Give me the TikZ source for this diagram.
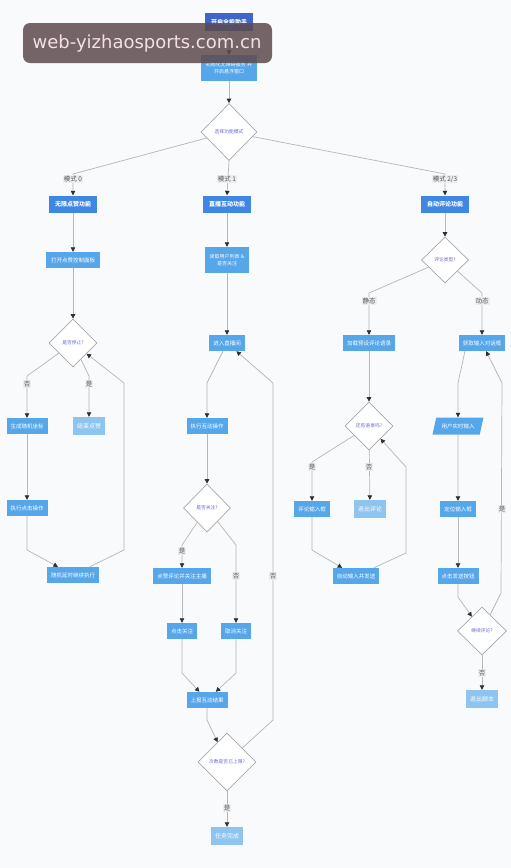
\documentclass[tikz,border=0pt]{standalone}
\usepackage{fontspec}
\setmainfont{Noto Sans CJK SC}
\newfontfamily\wmfont{DejaVu Sans}
\usetikzlibrary{shapes.geometric,arrows.meta}
\definecolor{bg}{HTML}{F8FAFB}
\definecolor{boxblue}{HTML}{56A6EA}
\definecolor{modeblue}{HTML}{3F87E2}
\definecolor{topblue}{HTML}{3D66C8}
\definecolor{lightblue}{HTML}{8DC4F0}
\definecolor{dgrey}{HTML}{A4A8AC}
\definecolor{dtext}{HTML}{6A6AD8}
\definecolor{egrey}{HTML}{B2B8BE}
\definecolor{arrowc}{HTML}{2E2E2E}
\definecolor{lblbg}{HTML}{EDEEEF}
\definecolor{lbltext}{HTML}{555555}
\definecolor{wmfill}{HTML}{5E4A4E}
\definecolor{wmtext}{HTML}{F4DFE4}
\begin{document}
\begin{tikzpicture}[x=1pt,y=-1pt,
  box/.style={rectangle, fill=boxblue, text=white, font=\fontsize{5.5}{6.5}\selectfont,
    inner xsep=4pt, inner ysep=2pt, minimum height=16pt, align=center},
  twoline/.style={box, font=\fontsize{5}{7}\selectfont, minimum height=26pt},
  modebox/.style={box, fill=modeblue, font=\bfseries\fontsize{6}{7}\selectfont,
    minimum height=17pt, inner xsep=6pt},
  topbox/.style={modebox, fill=topblue, minimum height=18pt},
  lightbox/.style={box, fill=lightblue, minimum height=18pt, font=\fontsize{6}{7}\selectfont},
  decision/.style={diamond, draw=dgrey, line width=0.7pt, fill=white, text=dtext,
    font=\fontsize{4.8}{5.5}\selectfont, inner sep=0pt, align=center},
  iobox/.style={trapezium, trapezium left angle=72, trapezium right angle=108,
    trapezium stretches=true,
    fill=boxblue, text=white, font=\fontsize{5.5}{6.5}\selectfont,
    minimum height=17pt, minimum width=51pt, inner xsep=1pt, inner ysep=2pt},
  edge/.style={draw=egrey, line width=0.7pt,
    -{Triangle[width=4.5pt,length=4.5pt,fill=arrowc,color=arrowc]}},
  elabel/.style={fill=lblbg, text=lbltext, font=\fontsize{6.5}{7}\selectfont, inner sep=1pt}
]
\fill[bg] (0,0) rectangle (511,868);
\useasboundingbox (0,0) rectangle (511,868);

% ---------- top ----------
\node[topbox] (start) at (229,22) {开启全能助手};
\node[twoline, minimum width=56pt] (init) at (229,68) {初始化无障碍服务 并\\开启悬浮窗口};
\node[decision, minimum width=56pt, minimum height=57pt] (dmode) at (229,132) {选择功能模式};
\node[modebox] (m0) at (73,204) {无限点赞功能};
\node[modebox] (m1) at (227,204) {直播互动功能};
\node[modebox] (m2) at (445,204) {自动评论功能};

% ---------- left ----------
\node[box, minimum width=54pt] (L1) at (73,260) {打开点赞控制面板};
\node[decision, minimum width=48pt, minimum height=48pt] (Ld) at (73,343) {是否停止?};
\node[box] (L2) at (27,426) {生成随机坐标};
\node[lightbox] (Lend) at (89,426) {结束点赞};
\node[box] (L3) at (27,508) {执行点击操作};
\node[box] (L4) at (73,575) {随机延时继续执行};

% ---------- middle ----------
\node[twoline, minimum width=44pt] (M1) at (227,260) {读取用户列表 \&\\是否关注};
\node[box] (M2) at (227,343) {进入直播间};
\node[box] (M3) at (207,426) {执行互动操作};
\node[decision, minimum width=47pt, minimum height=48pt] (Md) at (207,508) {是否关注?};
\node[box] (Y1) at (182,576) {点赞评论并关注主播};
\node[box] (Y2) at (182,631) {点击关注};
\node[box] (N1) at (236,631) {取消关注};
\node[box] (R) at (207,700) {上报互动结果};
\node[decision, minimum width=58pt, minimum height=58pt] (Dd) at (227,762) {次数是否已上限?};
\node[lightbox] (Done) at (227,836) {任务完成};

% ---------- right ----------
\node[decision, minimum width=47pt, minimum height=46pt] (Rd) at (445,260) {评论类型?};
\node[box] (S1) at (369,343) {加载预设评论语录};
\node[box] (D1) at (482,343) {获取输入对话框};
\node[decision, minimum width=48pt, minimum height=48pt] (Sd) at (369,426) {还有语录吗?};
\node[box] (E1) at (312,509) {评论输入框};
\node[lightbox] (E2) at (370,509) {退出评论};
\node[box] (E3) at (356,576) {自动输入并发送};
\node[iobox] (P1) at (458,426) {用户实时输入};
\node[box] (F1) at (458,509) {定位输入框};
\node[box] (F2) at (458,576) {点击发送按钮};
\node[decision, minimum width=49pt, minimum height=48pt] (Cd) at (482,631) {继续评论?};
\node[lightbox] (Q) at (482,699) {退出脚本};

% ---------- bend coordinates ----------
\coordinate (c0) at (73,174);
\coordinate (c2) at (445,174);
\coordinate (lno) at (27,376);
\coordinate (lyes) at (89,376);
\coordinate (l3b) at (27,550);
\coordinate (l4r) at (124,550);
\coordinate (l4u) at (124,383);
\coordinate (m2b) at (207,383);
\coordinate (myes) at (182,545);
\coordinate (mno) at (236,545);
\coordinate (y2b) at (182,673);
\coordinate (n1b) at (236,673);
\coordinate (rb) at (207,720);
\coordinate (ddr) at (273,720);
\coordinate (ddu) at (273,383);
\coordinate (rs) at (369,293);
\coordinate (rdyn) at (482,293);
\coordinate (syes) at (312,462);
\coordinate (e1b) at (312,550);
\coordinate (e3r) at (406,553);
\coordinate (e3u) at (406,467);
\coordinate (d1s) at (465,351);
\coordinate (d1b) at (458,383);
\coordinate (f2b) at (458,597);
\coordinate (cdr) at (501,593);
\coordinate (cdu) at (502,383);

% ---------- edges ----------
\draw[edge] (start) -- (init);
\draw[edge] (init) -- (dmode);
\draw[edge] (dmode) -- (c0) -- (m0);
\draw[edge] (dmode.south) -- (m1.north);
\draw[edge] (dmode) -- (c2) -- (m2);

\draw[edge] (m0) -- (L1);
\draw[edge] (L1) -- (Ld);
\draw[edge] (Ld) -- (lno) -- (L2);
\draw[edge] (Ld) -- (lyes) -- (Lend);
\draw[edge] (L2) -- (L3);
\draw[edge] (L3.south) -- (l3b) -- (L4);
\draw[edge] (L4) -- (l4r) -- (l4u) -- (Ld);

\draw[edge] (m1) -- (M1);
\draw[edge] (M1) -- (M2);
\draw[edge] (M2) -- (m2b) -- (M3);
\draw[edge] (M3) -- (Md);
\draw[edge] (Md) -- (myes) -- (Y1);
\draw[edge] (Md) -- (mno) -- (N1);
\draw[edge] (Y1) -- (Y2);
\draw[edge] (Y2.south) -- (y2b) -- (R);
\draw[edge] (N1.south) -- (n1b) -- (R);
\draw[edge] (R.south) -- (rb) -- (Dd);
\draw[edge] (Dd) -- (ddr) -- (ddu) -- (M2);
\draw[edge] (Dd) -- (Done);

\draw[edge] (m2) -- (Rd);
\draw[edge] (Rd) -- (rs) -- (S1);
\draw[edge] (Rd) -- (rdyn) -- (D1);
\draw[edge] (S1) -- (Sd);
\draw[edge] (Sd) -- (syes) -- (E1);
\draw[edge] (Sd) -- (E2);
\draw[edge] (E1.south) -- (e1b) -- (E3);
\draw[edge] (E3) -- (e3r) -- (e3u) -- (Sd);
\draw[edge] (d1s) -- (d1b) -- (P1);
\draw[edge] (P1) -- (F1);
\draw[edge] (F1) -- (F2);
\draw[edge] (F2.south) -- (f2b) -- (Cd);
\draw[edge] (Cd) -- (cdr) -- (cdu) -- (D1);
\draw[edge] (Cd) -- (Q);

% ---------- edge labels ----------
\node[elabel] (t0) at (73,179) {模式 0};
\node[elabel] (t1) at (227,179) {模式 1};
\node[elabel] (t2) at (445,179) {模式 2/3};
\node[elabel] (tl1) at (27,384) {否};
\node[elabel] (tl2) at (89,384) {是};
\node[elabel] (tm1) at (182,551) {是};
\node[elabel] (tm2) at (236,576) {否};
\node[elabel] (tm3) at (273,576) {否};
\node[elabel] (tm4) at (227,808) {是};
\node[elabel] (tr1) at (369,301) {静态};
\node[elabel] (tr2) at (482,301) {动态};
\node[elabel] (tr3) at (312,467) {是};
\node[elabel] (tr4) at (369,467) {否};
\node[elabel] (tr5) at (502,509) {是};
\node[elabel] (tr6) at (482,673) {否};

% ---------- watermark ----------
\fill[wmfill, opacity=0.85, rounded corners=7pt] (23,23) rectangle (272,63);
\node[text=wmtext, font=\wmfont\fontsize{18}{21}\selectfont, inner sep=0pt] (wm) at (147,44) {web-yizhaosports.com.cn};
\end{tikzpicture}
\end{document}
